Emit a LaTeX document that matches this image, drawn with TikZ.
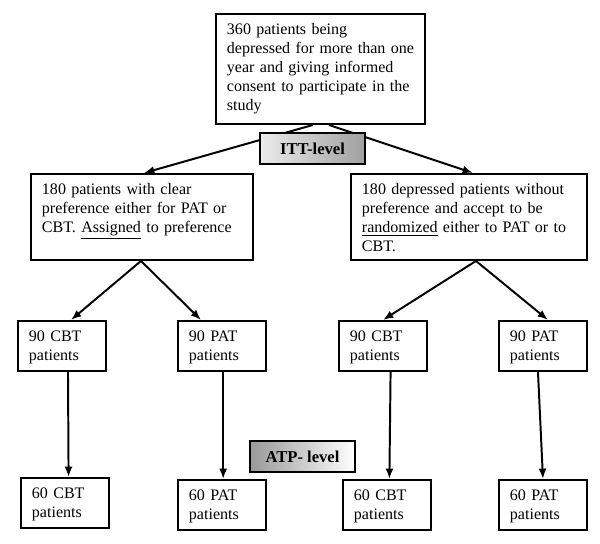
\documentclass[tikz,border=0pt]{standalone}
\usepackage{fontspec}
\setmainfont{Liberation Serif}
\usetikzlibrary{arrows.meta}

\begin{document}
\begin{tikzpicture}[
    box/.style={draw, line width=1.4pt, anchor=north west, align=left,
      inner xsep=0.275cm, inner ysep=0.175cm, text height=0.35cm,
      font=\fontsize{11.4}{13.5}\selectfont},
    smallbox/.style={box, text width=1.65cm, text depth=0.55cm},
    levelbox/.style={draw, line width=1.8pt, minimum width=2.625cm, minimum height=0.775cm,
      inner sep=0pt, font=\fontsize{11.8}{13}\selectfont\bfseries},
    arr/.style={line width=1.4pt, -{Latex[length=2.6mm,width=2mm]}}
  ]
    \useasboundingbox (0, 0) rectangle (15, 13.6);
    % ITT level
    \node[box, text width=4.675cm, text depth=2.05cm] (all) at (5.375, 13.275) {360 patients being\\ depressed for more than one\\ year and giving informed\\ consent to participate in the\\ study};
    \node[box, text width=5cm, text depth=1.45cm] (pref) at (0.75, 9.275) {180 patients with clear\\ preference either for PAT or\\ CBT. \underline{Assigned} to preference};
    \node[box, text width=5.35cm, text depth=1.45cm] (rand) at (8.75, 9.275) {180 depressed patients without\\ preference and accept to be\\ \underline{randomized} either to PAT or to\\ CBT.};
    \draw[arr] ([xshift=-0.19cm]all.south) -- ([xshift=0.05cm]pref.north);
    \draw[arr] ([xshift=0.21cm]all.south) -- ([xshift=0.1cm]rand.north);
    \node[levelbox, left color=gray!15, right color=gray!75] (itt) at (7.8125, 9.8875) {ITT-level};
    % treatment arms
    \node[smallbox] (cbtA) at (0.425, 5.6) {90 CBT\\ patients};
    \node[smallbox] (patA) at (4.425, 5.6) {90 PAT\\ patients};
    \node[smallbox] (cbtB) at (8.45, 5.6) {90 CBT\\ patients};
    \node[smallbox] (patB) at (12.45, 5.6) {90 PAT\\ patients};
    \draw[arr] ([xshift=-0.025cm]pref.south) -- ([xshift=0.225cm]cbtA.north);
    \draw[arr] ([xshift=-0.025cm]pref.south) -- ([xshift=-0.525cm]patA.north);
    \draw[arr] ([xshift=0.175cm]rand.south) -- (cbtB.north);
    \draw[arr] ([xshift=0.175cm]rand.south) -- ([xshift=0.125cm]patB.north);
    % ATP level
    \node[smallbox] (cbtA60) at (0.5, 1.675) {60 CBT\\ patients};
    \node[smallbox] (patA60) at (4.425, 1.625) {60 PAT\\ patients};
    \node[smallbox] (cbtB60) at (8.55, 1.625) {60 CBT\\ patients};
    \node[smallbox] (patB60) at (12.45, 1.625) {60 PAT\\ patients};
    \draw[arr] ([xshift=0.15cm]cbtA.south) -- ([xshift=0.09cm]cbtA60.north);
    \draw[arr] ([xshift=0.03cm]patA.south) -- ([xshift=0.03cm]patA60.north);
    \draw[arr] ([xshift=0.19cm]cbtB.south) -- ([xshift=0.06cm]cbtB60.north);
    \draw[arr] ([xshift=-0.125cm]patB.south) -- (patB60.north);
    \node[levelbox, left color=gray!80, right color=white] (atp) at (7.5625, 2.1875) {ATP- level};
  \end{tikzpicture}
\end{document}
